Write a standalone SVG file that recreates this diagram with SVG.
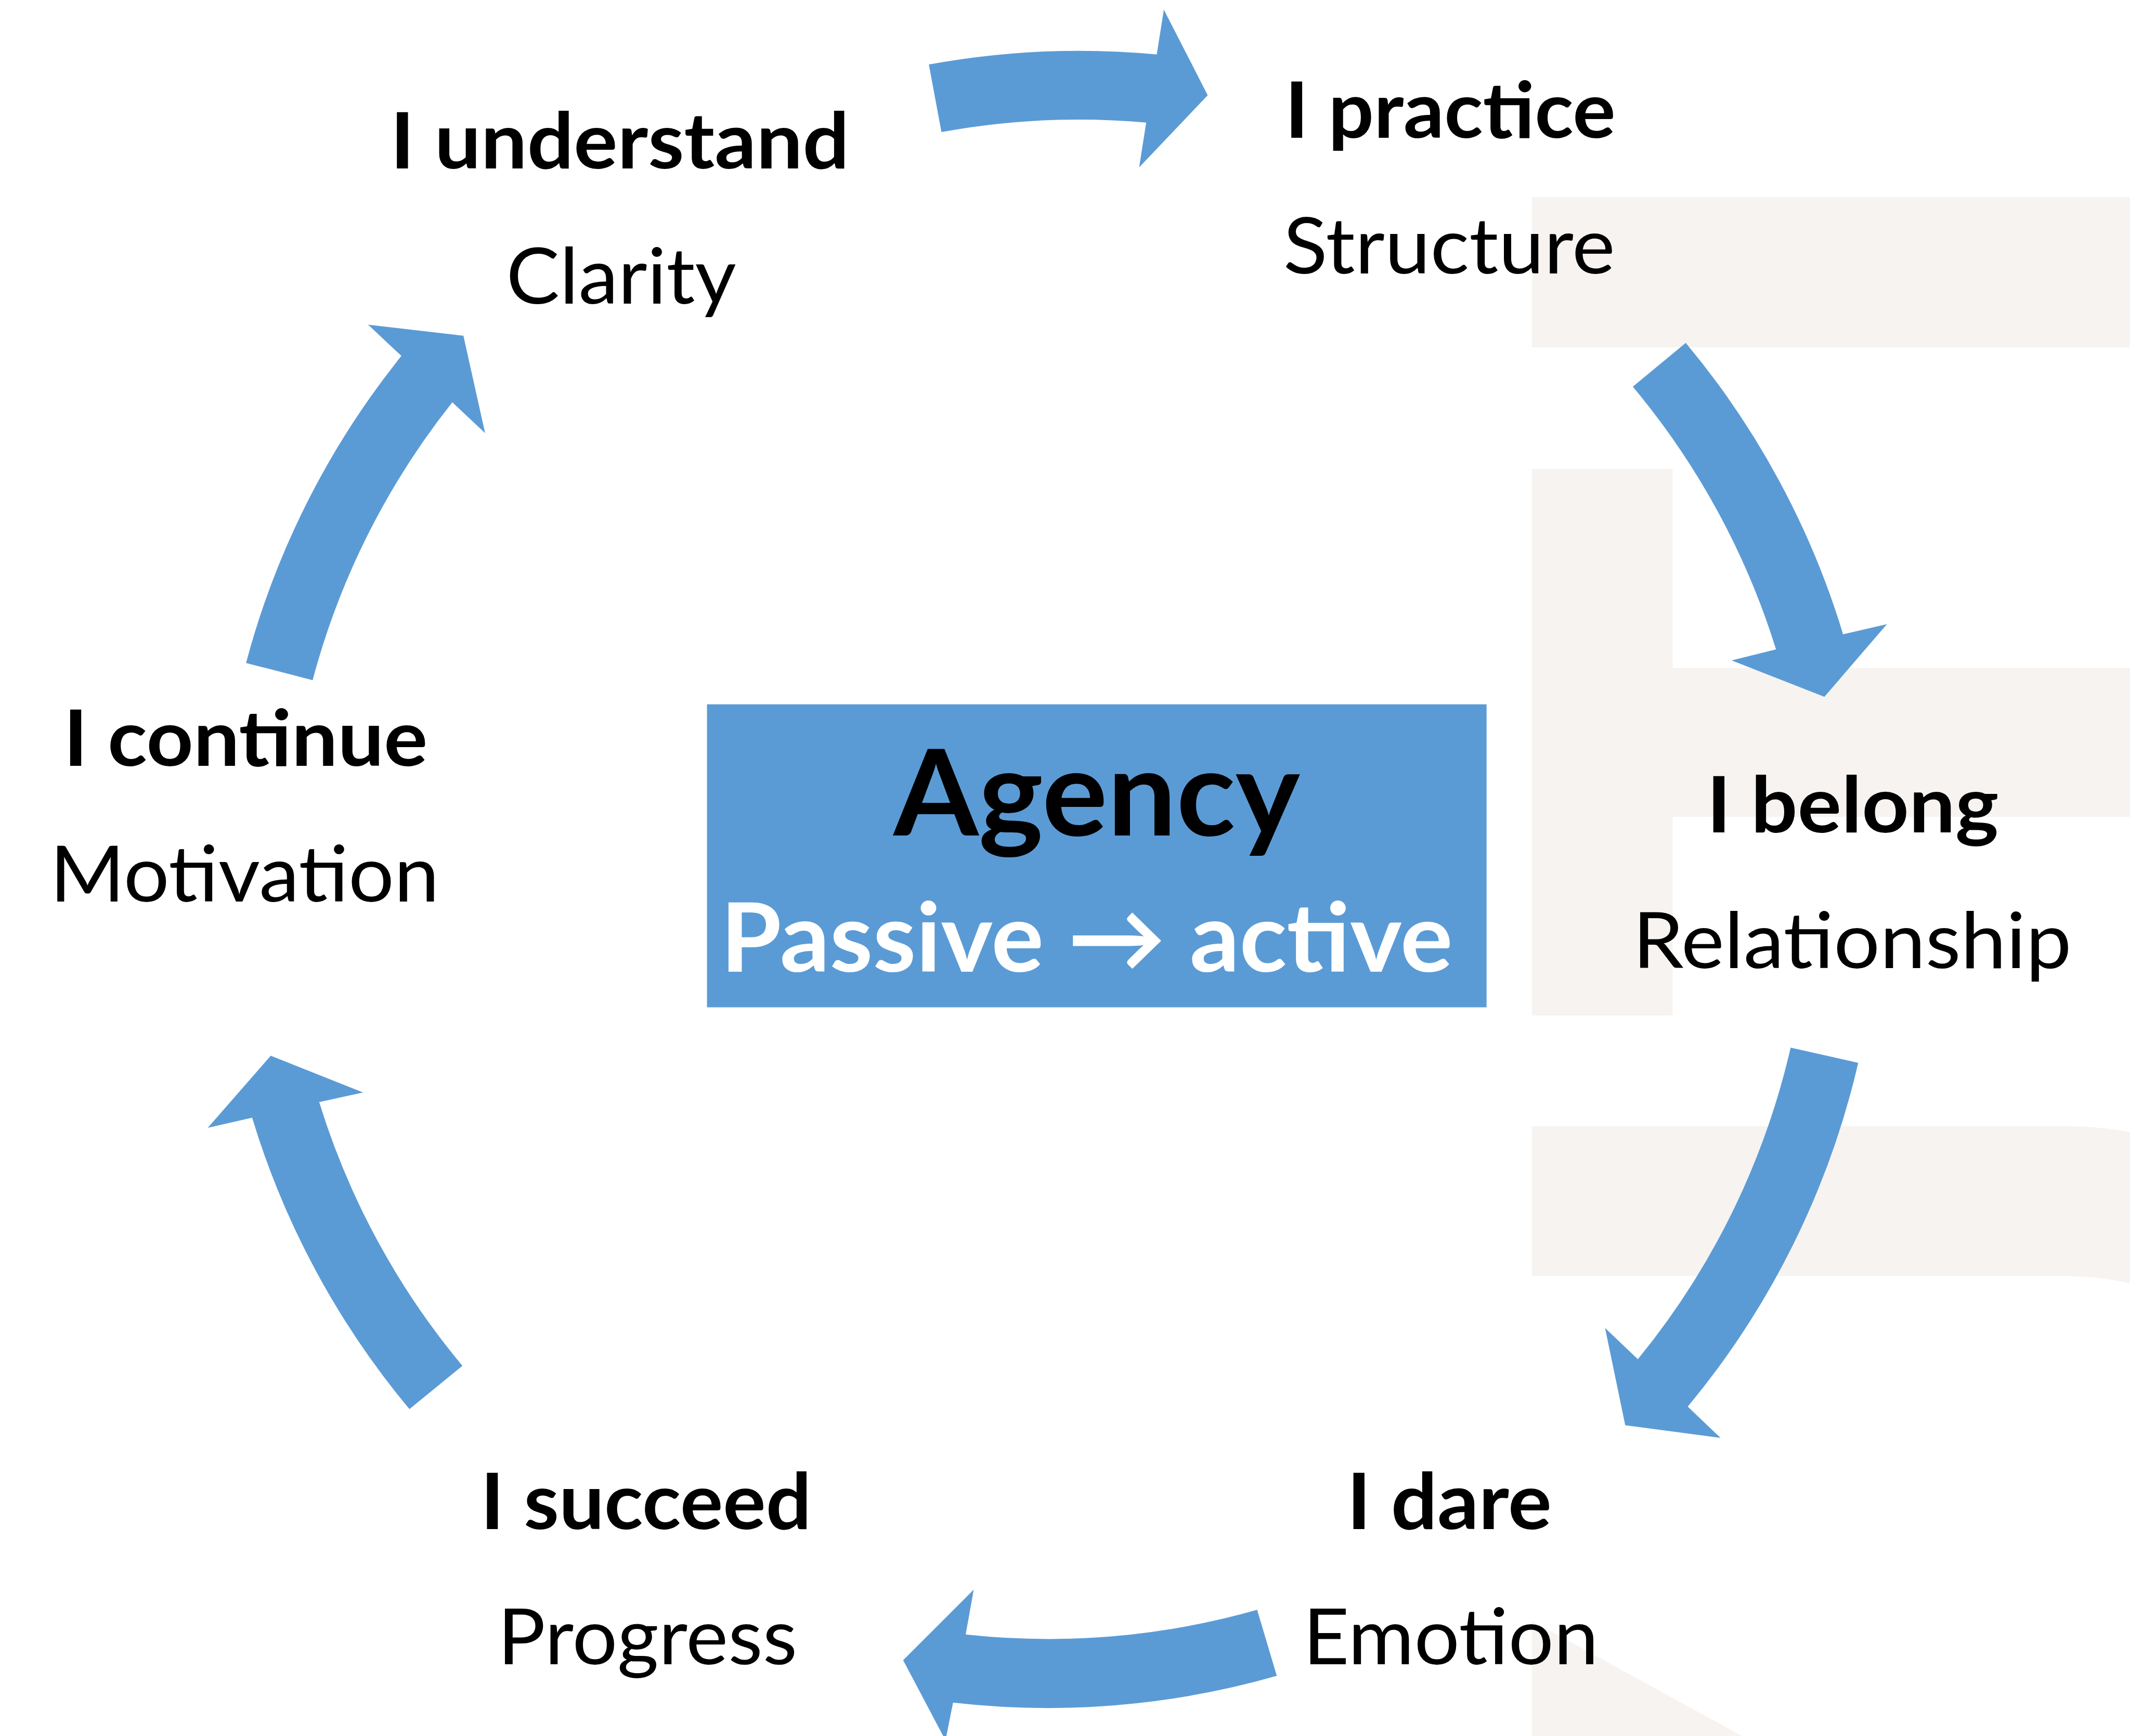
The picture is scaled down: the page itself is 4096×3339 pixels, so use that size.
<svg xmlns="http://www.w3.org/2000/svg" width="4096" height="3339" viewBox="0 0 4096 3339">
  <style>
    .bg { fill: #F6F3F0; }
    .arrow { fill: #5B9BD5; }
    .box { fill: #5B9BD5; }
    text { font-family: Lato, "Open Sans", "DejaVu Sans", sans-serif; text-anchor: middle; }
    .head { font-size: 154px; font-weight: 700; fill: #000; }
    .sub { font-size: 154px; font-weight: 400; fill: #000; }
    .title { font-size: 237px; font-weight: 700; fill: #000; }
    .tag { font-size: 190px; font-weight: 700; fill: #FFF; }
  </style>
  <rect width="4096" height="3339" fill="#FFFFFF"/>
  <g transform="scale(0.9697)">
    <!-- faint watermark shapes on the right -->
    <g id="watermark">
      <rect class="bg" x="3038" y="391" width="1186" height="298"/>
      <rect class="bg" x="3038" y="930" width="279" height="1084"/>
      <rect class="bg" x="3317" y="1325" width="907" height="295"/>
      <path class="bg" d="M3038,2234 H4100 Q4175,2235 4224,2246 V2546 Q4175,2533 4100,2531 H3038 Z"/>
      <path class="bg" d="M3038,3215 L3454,3443 L3038,3443 Z"/>
    </g>

    <!-- curved cycle arrows -->
    <g id="connectors">
      <path class="arrow" d="M1842,128 A1647,1647 0 0 1 2294,108 L2308,19 L2395,189 L2259,332 L2273,243 A1510,1510 0 0 0 1867,262 Z"/>
      <path class="arrow" d="M3343,680 A1647,1647 0 0 1 3655,1258 L3742,1238 L3618,1382 L3434,1310 L3522,1288 A1510,1510 0 0 0 3238,767 Z"/>
      <path class="arrow" d="M3685,2108 A1647,1647 0 0 1 3347,2790 L3412,2852 L3223,2827 L3183,2634 L3248,2696 A1510,1510 0 0 0 3551,2078 Z"/>
      <path class="arrow" d="M2532,3324 A1647,1647 0 0 1 1890,3377 L1875,3452 L1791,3293 L1931,3153 L1915,3242 A1510,1510 0 0 0 2493,3193 Z"/>
      <path class="arrow" d="M812,2795 A1647,1647 0 0 1 500,2217 L412,2237 L537,2094 L720,2167 L633,2186 A1510,1510 0 0 0 917,2709 Z"/>
      <path class="arrow" d="M488,1315 A1647,1647 0 0 1 796,706 L730,644 L919,666 L962,859 L897,798 A1510,1510 0 0 0 620,1349 Z"/>
    </g>

    <g id="center">
      <rect class="box" x="1402" y="1397" width="1546" height="601"/>
      <text class="title" x="2175" y="1657" textLength="806" lengthAdjust="spacingAndGlyphs">Agency</text>
      <text class="tag" x="2155" y="1927" textLength="1452" lengthAdjust="spacingAndGlyphs">Passive → active</text>
    </g>

    <g id="understand">
      <text class="head" x="1229" y="334" textLength="910" lengthAdjust="spacingAndGlyphs">I understand</text>
      <text class="sub" x="1232" y="602" textLength="456" lengthAdjust="spacingAndGlyphs">Clarity</text>
    </g>
    <g id="practice">
      <text class="head" x="2876" y="273" textLength="656" lengthAdjust="spacingAndGlyphs">I practice</text>
      <text class="sub" x="2874" y="542" textLength="658" lengthAdjust="spacingAndGlyphs">Structure</text>
    </g>
    <g id="belong">
      <text class="head" x="3674" y="1651" textLength="579" lengthAdjust="spacingAndGlyphs">I belong</text>
      <text class="sub" x="3673" y="1920" textLength="870" lengthAdjust="spacingAndGlyphs">Relationship</text>
    </g>
    <g id="dare">
      <text class="head" x="2874" y="3033" textLength="406" lengthAdjust="spacingAndGlyphs">I dare</text>
      <text class="sub" x="2877" y="3301" textLength="586" lengthAdjust="spacingAndGlyphs">Emotion</text>
    </g>
    <g id="succeed">
      <text class="head" x="1281" y="3033" textLength="656" lengthAdjust="spacingAndGlyphs">I succeed</text>
      <text class="sub" x="1284" y="3301" textLength="594" lengthAdjust="spacingAndGlyphs">Progress</text>
    </g>
    <g id="continue">
      <text class="head" x="487" y="1519" textLength="722" lengthAdjust="spacingAndGlyphs">I continue</text>
      <text class="sub" x="485" y="1788" textLength="772" lengthAdjust="spacingAndGlyphs">Motivation</text>
    </g>
  </g>
</svg>
